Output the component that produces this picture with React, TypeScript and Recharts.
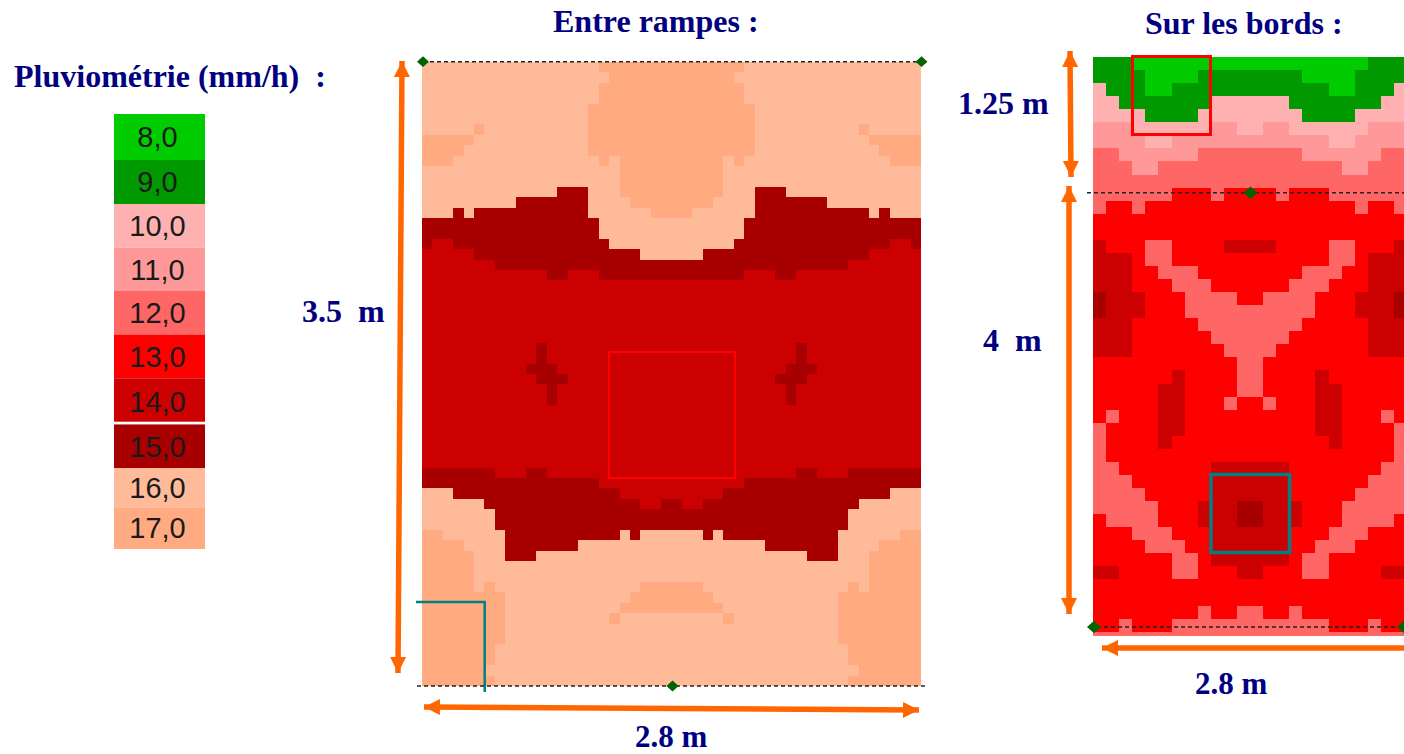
import { BarChart, Bar, LabelList, Scatter, ScatterChart, XAxis, YAxis } from "recharts"

// mm/h values, each row written as "value*run" from left to right
const betweenRampsRows = [
  "16*17 17*14 16*17",
  "16*18 17*12 16*18",
  "16*17 17*14 16*17",
  "16*17 17*14 16*17",
  "16*16 17*16 16*16",
  "16*16 17*16 16*16",
  "16*5 17*1 16*10 17*16 16*10 17*1 16*5",
  "17*5 16*11 17*16 16*11 17*5",
  "17*4 16*12 17*16 16*12 17*4",
  "17*3 16*14 17*1 16*1 17*10 16*1 17*1 16*14 17*3",
  "16*19 17*10 16*19",
  "16*19 17*10 16*19",
  "16*13 15*3 16*3 17*10 16*3 15*3 16*13",
  "16*9 15*7 16*4 17*8 16*4 15*7 16*9",
  "16*3 15*1 16*1 15*11 16*6 17*4 16*6 15*11 16*1 15*1 16*3",
  "15*17 16*14 15*17",
  "15*17 16*14 15*17",
  "15*1 14*2 15*15 16*12 15*15 14*2 15*1",
  "14*5 15*16 16*6 15*16 14*5",
  "14*7 15*34 14*7",
  "14*12 15*2 14*3 15*14 14*3 15*2 14*12",
  "14*48",
  "14*48",
  "14*48",
  "14*48",
  "14*48",
  "14*48",
  "14*11 15*1 14*24 15*1 14*11",
  "14*11 15*1 14*24 15*1 14*11",
  "14*10 15*3 14*22 15*3 14*10",
  "14*11 15*3 14*20 15*3 14*11",
  "14*12 15*1 14*22 15*1 14*12",
  "14*12 15*1 14*22 15*1 14*12",
  "14*48",
  "14*48",
  "14*48",
  "14*48",
  "14*48",
  "14*48",
  "15*7 14*3 15*2 14*24 15*2 14*3 15*7",
  "15*17 14*14 15*17",
  "16*3 15*16 14*10 15*16 16*3",
  "16*6 15*15 14*2 15*2 14*2 15*15 16*6",
  "16*7 15*34 16*7",
  "16*7 15*34 16*7",
  "17*2 16*6 15*11 16*1 15*1 16*6 15*1 16*1 15*11 16*6 17*2",
  "17*4 16*4 15*7 16*18 15*7 16*4 17*4",
  "17*5 16*3 15*3 16*26 15*3 16*3 17*5",
  "17*5 16*38 17*5",
  "17*5 16*38 17*5",
  "17*5 16*1 17*1 16*14 17*6 16*14 17*1 16*1 17*5",
  "17*8 16*12 17*8 16*12 17*8",
  "17*8 16*11 17*10 16*11 17*8",
  "17*8 16*10 17*1 16*10 17*1 16*10 17*8",
  "17*8 16*32 17*8",
  "17*8 16*32 17*8",
  "17*7 16*34 17*7",
  "17*7 16*34 17*7",
  "17*6 16*36 17*6",
  "17*7 16*34 17*7",
]

const edgeRows = [
  "9*3 8*18 9*3",
  "9*4 8*4 9*8 8*4 9*4",
  "10*1 9*3 8*2 9*12 8*2 9*3 10*1",
  "10*2 9*7 10*6 9*7 10*2",
  "10*4 9*4 10*8 9*4 10*4",
  "11*3 10*6 11*2 10*2 11*2 10*6 11*3",
  "11*4 10*2 11*12 10*2 11*4",
  "12*2 11*6 12*8 11*6 12*2",
  "12*3 11*2 12*14 11*2 12*3",
  "12*24",
  "12*6 13*3 12*1 13*4 12*1 13*3 12*6",
  "12*1 13*2 12*1 13*16 12*1 13*2 12*1",
  "13*24",
  "13*24",
  "14*1 13*3 12*2 13*4 14*4 13*4 12*2 13*3 14*1",
  "14*3 13*1 12*2 13*12 12*2 13*1 14*3",
  "14*3 13*2 12*3 13*8 12*3 13*2 14*3",
  "14*3 13*3 12*3 13*6 12*3 13*3 14*3",
  "15*1 14*3 13*3 12*4 13*2 12*4 13*3 14*3 15*1",
  "15*1 14*3 13*3 12*10 13*3 14*3 15*1",
  "14*3 13*5 12*8 13*5 14*3",
  "14*3 13*6 12*6 13*6 14*3",
  "14*3 13*7 12*4 13*7 14*3",
  "13*11 12*2 13*11",
  "13*6 14*1 13*4 12*2 13*4 14*1 13*6",
  "13*5 14*2 13*4 12*2 13*4 14*2 13*5",
  "13*5 14*2 13*3 12*1 13*2 12*1 13*3 14*2 13*5",
  "13*1 12*1 13*3 14*2 13*10 14*2 13*3 12*1 13*1",
  "12*1 13*4 14*2 13*10 14*2 13*4 12*1",
  "12*1 13*4 14*1 13*12 14*1 13*4 12*1",
  "12*1 13*22 12*1",
  "12*2 13*7 14*6 13*7 12*2",
  "12*3 13*6 14*6 13*6 12*3",
  "12*4 13*5 14*6 13*5 12*4",
  "12*5 13*3 14*3 15*2 14*3 13*3 12*5",
  "13*1 12*4 13*3 14*3 15*2 14*3 13*3 12*4 13*1",
  "13*3 12*3 13*3 14*6 13*3 12*3 13*3",
  "13*4 12*3 13*2 14*6 13*2 12*3 13*4",
  "13*6 12*2 13*1 14*6 13*1 12*2 13*6",
  "14*2 13*4 12*2 13*3 14*2 13*3 12*2 13*4 14*2",
  "13*24",
  "13*24",
  "13*8 12*1 13*2 12*2 13*2 12*1 13*8",
  "13*2 12*1 13*3 12*12 13*3 12*1 13*2",
  "12*24",
]

const levels = [8, 9, 10, 11, 12, 13, 14, 15, 16, 17]
const levelLabels = ["8,0", "9,0", "10,0", "11,0", "12,0", "13,0", "14,0", "15,0", "16,0", "17,0"]
const levelColors = ["#00cc00", "#009900", "#ffb0b0", "#ff9999", "#ff6666", "#ff0000", "#cc0000", "#a80000", "#ffbb99", "#ffaa80"]
// the legend swatches are not all the same height in the picture
const swatchHeights = [46, 44, 43.7, 43.3, 43.5, 43.8, 46, 44, 39, 41.7]

const colorOf = (value: number) => levelColors[levels.indexOf(value)]

function toCells(rows: string[]) {
  const cells: { x: number; y: number; value: number }[] = []
  rows.forEach((row, r) => {
    let col = 0
    row.split(" ").forEach((run) => {
      const [value, count] = run.split("*").map(Number)
      for (let i = 0; i < count; i++) {
        cells.push({ x: col + 0.5, y: r + 0.5, value })
        col++
      }
    })
  })
  return cells
}

interface HeatMapProps {
  rows: string[]
  columns: number
  visibleRows: number
  left: number
  top: number
  width: number
  height: number
}

function HeatMap({ rows, columns, visibleRows, left, top, width, height }: HeatMapProps) {
  const cellW = width / columns
  const cellH = height / visibleRows
  const renderCell = (props: any) => (
    <rect
      x={props.cx - cellW / 2}
      y={props.cy - cellH / 2}
      width={cellW}
      height={cellH}
      fill={colorOf(props.payload.value)}
      shapeRendering="crispEdges"
    />
  )
  return (
    <div style={{ position: "absolute", left, top }}>
      <ScatterChart width={width} height={height} margin={{ top: 0, right: 0, bottom: 0, left: 0 }}>
        <XAxis type="number" dataKey="x" domain={[0, columns]} hide allowDataOverflow />
        <YAxis type="number" dataKey="y" domain={[0, visibleRows]} reversed hide allowDataOverflow />
        <Scatter data={toCells(rows)} shape={renderCell} isAnimationActive={false} />
      </ScatterChart>
    </div>
  )
}

function LevelLegend() {
  const row: Record<string, string | number> = { name: "legend" }
  levelLabels.forEach((label, i) => {
    row[label] = swatchHeights[i]
  })
  return (
    <div style={{ position: "absolute", left: 114, top: 114 }}>
      <BarChart width={91} height={435} data={[row]} barCategoryGap={0} margin={{ top: 0, right: 0, bottom: 0, left: 0 }}>
        <XAxis type="category" dataKey="name" hide />
        <YAxis type="number" domain={[0, 435]} reversed hide />
        {levelLabels.map((label, i) => (
          <Bar key={label} dataKey={label} stackId="legend" fill={levelColors[i]} isAnimationActive={false}>
            <LabelList
              position="center"
              valueAccessor={() => label}
              fill="#1a1a1a"
              fontSize={29}
              fontFamily="'Liberation Sans'"
              dx={-2}
            />
          </Bar>
        ))}
      </BarChart>
    </div>
  )
}

const ORANGE = "#ff6600"
const NAVY = "#000080"
const GREEN = "#006400"
const TEAL = "#008080"

function Arrow({ x1, y1, x2, y2 }: { x1: number; y1: number; x2: number; y2: number }) {
  const len = Math.hypot(x2 - x1, y2 - y1)
  const ux = (x2 - x1) / len
  const uy = (y2 - y1) / len
  const head = (tx: number, ty: number, dx: number, dy: number) => {
    const bx = tx - dx * 16
    const by = ty - dy * 16
    return `${tx},${ty} ${bx - dy * 8},${by + dx * 8} ${bx + dy * 8},${by - dx * 8}`
  }
  return (
    <g fill={ORANGE}>
      <line x1={x1} y1={y1} x2={x2} y2={y2} stroke={ORANGE} strokeWidth={5.5} />
      <polygon points={head(x1, y1, -ux, -uy)} />
      <polygon points={head(x2, y2, ux, uy)} />
    </g>
  )
}

const Diamond = ({ x, y, r = 6 }: { x: number; y: number; r?: number }) => (
  <polygon points={`${x - r},${y} ${x},${y - r * 0.9} ${x + r},${y} ${x},${y + r * 0.9}`} fill={GREEN} />
)

const Dashed = ({ x1, x2, y }: { x1: number; x2: number; y: number }) => (
  <line x1={x1} x2={x2} y1={y} y2={y} stroke="#222" strokeWidth={1.5} strokeDasharray="4 3" />
)

const Label = ({ x, y, size = 32, children }: { x: number; y: number; size?: number; children: string }) => (
  <text x={x} y={y} fill={NAVY} fontFamily="'Liberation Serif'" fontWeight="bold" fontSize={size} style={{ whiteSpace: "pre" }}>
    {children}
  </text>
)

function Annotations() {
  return (
    <svg width={1404} height={754} style={{ position: "absolute", left: 0, top: 0 }}>
      <rect x={114} y={421.7} width={91} height={2.6} fill="#ffffff" />

      <rect x={609} y={352} width={126} height={126} fill="none" stroke="#ff0000" strokeWidth={2} />
      <polyline points="416,602 484.7,602 484.7,692" fill="none" stroke={TEAL} strokeWidth={2.5} />
      <Dashed x1={423} x2={925} y={61.7} />
      <Dashed x1={417} x2={928} y={686} />
      <Diamond x={423} y={61.7} />
      <Diamond x={921.5} y={61.7} />
      <Diamond x={672.5} y={686} />
      <Arrow x1={402} y1={61} x2={398} y2={673} />
      <Arrow x1={424} y1={707} x2={919} y2={710} />

      <rect x={1132.5} y={56.5} width={78} height={78} fill="none" stroke="#ff0000" strokeWidth={3} />
      <rect x={1211} y={474.5} width={78.5} height={78} fill="none" stroke={TEAL} strokeWidth={3.5} />
      <Dashed x1={1087} x2={1404} y={192.7} />
      <Dashed x1={1090} x2={1404} y={627} />
      <Diamond x={1250.5} y={192.7} r={7} />
      <Diamond x={1094} y={627} r={7} />
      <Diamond x={1404} y={627} r={7} />
      <Arrow x1={1070} y1={51} x2={1071} y2={177} />
      <Arrow x1={1069} y1={186} x2={1069} y2={614} />
      <Arrow x1={1102} y1={648} x2={1424} y2={648} />

      <Label x={553} y={32}>Entre rampes :</Label>
      <Label x={1145} y={34}>Sur les bords :</Label>
      <Label x={14} y={87}>{"Pluviométrie (mm/h)  :"}</Label>
      <Label x={958} y={114}>1.25 m</Label>
      <Label x={302} y={322}>{"3.5  m"}</Label>
      <Label x={983} y={351}>{"4  m"}</Label>
      <Label x={1195} y={694} size={31}>2.8 m</Label>
      <Label x={635} y={747} size={31}>2.8 m</Label>
    </svg>
  )
}

export default function App() {
  return (
    <div style={{ position: "absolute", left: 0, top: 0, width: 1404, height: 754, overflow: "hidden", background: "#ffffff" }}>
      <LevelLegend />
      <HeatMap rows={betweenRampsRows} columns={48} visibleRows={60} left={422} top={62} width={499} height={624} />
      <HeatMap rows={edgeRows} columns={24} visibleRows={44.33} left={1093} top={57} width={314} height={579} />
      <Annotations />
    </div>
  )
}
